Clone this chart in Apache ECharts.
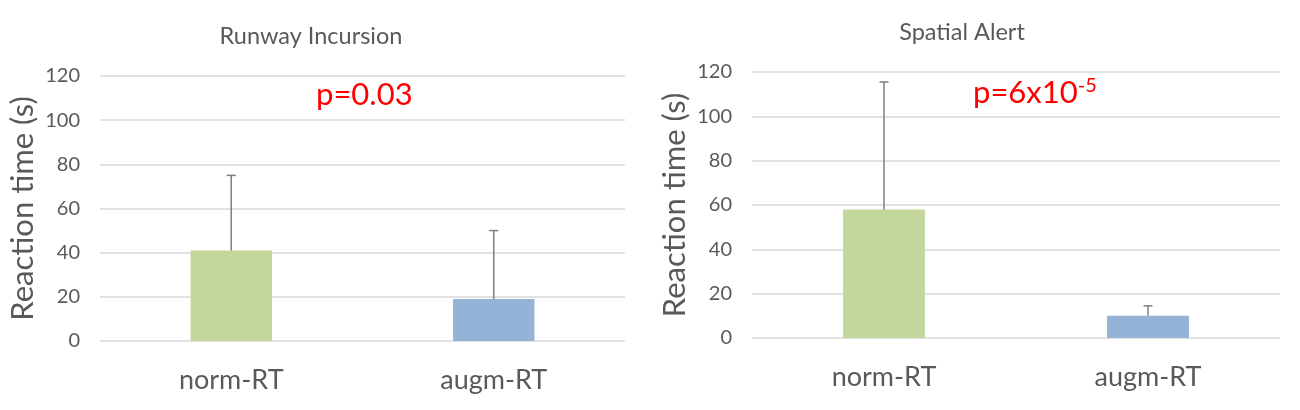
<!DOCTYPE html>
<html>
<head>
<meta charset="utf-8">
<script src="https://cdn.jsdelivr.net/npm/echarts@6/dist/echarts.min.js"></script>
<style>
html,body{margin:0;padding:0;background:#fff;}
#chart{width:1300px;height:410px;}
</style>
</head>
<body>
<div id="chart"></div>
<script>
// ---- data ----
var categories = ['norm-RT', 'augm-RT'];
var yTicks = [0, 20, 40, 60, 80, 100, 120];
var runwayMeans = [41, 19];
var runwayErr = [34, 31];
var spatialMeans = [58, 10];
var spatialErr = [57.5, 4.5];
var titles = ['Runway Incursion', 'Spatial Alert'];
var pTexts = ['p=0.03', 'p=6x10{s|-5}'];
var yName = 'Reaction time (s)';

// ---- style ----
var FONT = 'Lato';
var GRAY = '#595959';
var GREEN = '#C3D69B';
var BLUE = '#95B3D7';
var ERR = '#7F7F7F';

var chart = echarts.init(document.getElementById('chart'), null, {renderer: 'canvas'});

function yAxis(gi) {
  return {
    gridIndex: gi, type: 'value', min: yTicks[0], max: yTicks[yTicks.length - 1], interval: yTicks[1] - yTicks[0],
    axisLine: {show: false}, axisTick: {show: false},
    axisLabel: {color: GRAY, fontFamily: FONT, fontSize: 20, margin: 20},
    splitLine: {lineStyle: {color: '#D9D9D9', width: 1.5}},
    name: yName, nameLocation: 'middle', nameGap: 62,
    nameTextStyle: {color: GRAY, fontFamily: FONT, fontSize: 31}
  };
}
function xAxis(gi) {
  return {
    gridIndex: gi, type: 'category', data: categories,
    axisLine: {show: false}, axisTick: {show: false},
    axisLabel: {color: GRAY, fontFamily: FONT, fontSize: 27, margin: 26}
  };
}
function barSeries(gi, means) {
  return {
    type: 'bar', xAxisIndex: gi, yAxisIndex: gi, barWidth: '31%',
    data: means.map(function (v, i) {
      return {value: v, itemStyle: {color: i === 0 ? GREEN : BLUE}};
    }),
    silent: true, z: 2
  };
}
function errSeries(gi, means, errs) {
  return {
    type: 'custom', xAxisIndex: gi, yAxisIndex: gi, z: 3, silent: true,
    data: means.map(function (v, i) { return [i, v, v + errs[i]]; }),
    renderItem: function (params, api) {
      var base = api.coord([api.value(0), api.value(1)]);
      var top = api.coord([api.value(0), api.value(2)]);
      var hw = 4.5;
      var st = {stroke: ERR, lineWidth: 1.5};
      return {
        type: 'group',
        children: [
          {type: 'line', shape: {x1: base[0], y1: base[1], x2: top[0], y2: top[1]}, style: st},
          {type: 'line', shape: {x1: top[0] - hw, y1: top[1], x2: top[0] + hw, y2: top[1]}, style: st}
        ]
      };
    }
  };
}

var option = {
  backgroundColor: '#fff',
  animation: false,
  grid: [
    {left: 100, right: 675, top: 76, bottom: 69},
    {left: 752, right: 20, top: 72, bottom: 72}
  ],
  xAxis: [xAxis(0), xAxis(1)],
  yAxis: [yAxis(0), yAxis(1)],
  series: [
    barSeries(0, runwayMeans), errSeries(0, runwayMeans, runwayErr),
    barSeries(1, spatialMeans), errSeries(1, spatialMeans, spatialErr)
  ],
  graphic: [
    {type: 'text', x: 311, y: 36, style: {text: titles[0], fill: GRAY, font: '23.5px ' + FONT, align: 'center', verticalAlign: 'middle'}},
    {type: 'text', x: 962, y: 32, style: {text: titles[1], fill: GRAY, font: '23.5px ' + FONT, align: 'center', verticalAlign: 'middle'}},
    {type: 'text', x: 316, y: 95, style: {text: pTexts[0], fill: '#FF0000', fontFamily: FONT, fontSize: 31, align: 'left', verticalAlign: 'middle'}},
    {type: 'text', x: 973, y: 93, style: {text: pTexts[1], fill: '#FF0000', fontFamily: FONT, fontSize: 31, align: 'left', verticalAlign: 'middle',
      rich: {s: {fill: '#FF0000', fontFamily: FONT, fontSize: 20, verticalAlign: 'top', padding: [0, 0, 14, 0]}}}}
  ]
};
chart.setOption(option);
</script>
</body>
</html>
